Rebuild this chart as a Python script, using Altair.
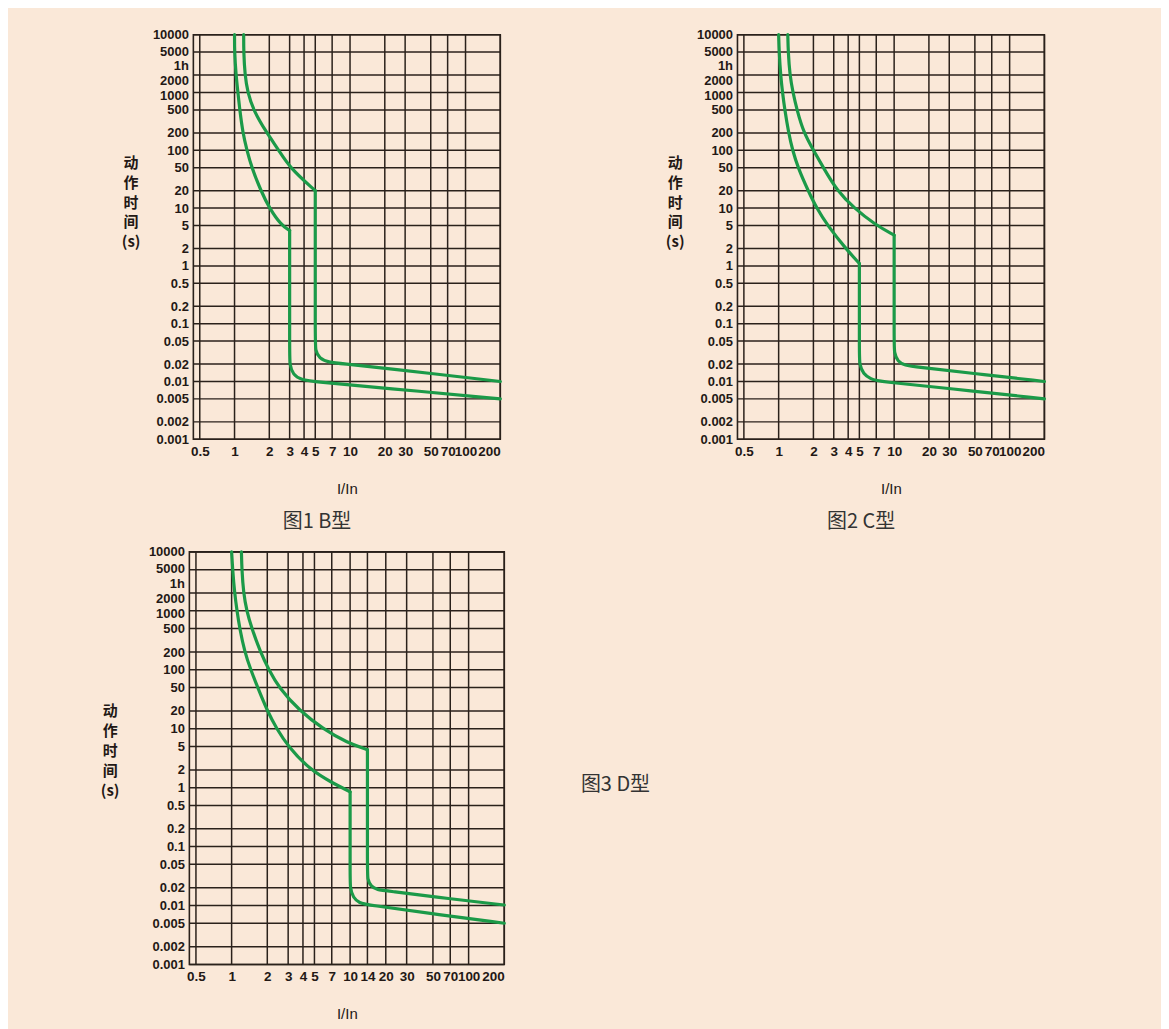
import altair as alt
import pandas as pd

# ---------------- axis ticks ----------------
X_TICKS_BC = [0.5, 1, 2, 3, 4, 5, 7, 10, 20, 30, 50, 70, 100, 200]
X_TICKS_D = [0.5, 1, 2, 3, 4, 5, 7, 10, 14, 20, 30, 50, 70, 100, 200]
Y_TICKS = [10000, 5000, 3600, 2000, 1000, 500, 200, 100, 50, 20, 10, 5, 2, 1,
           0.5, 0.2, 0.1, 0.05, 0.02, 0.01, 0.005, 0.002, 0.001]
Y_GRID = [10000, 5000, 2000, 1000, 500, 200, 100, 50, 20, 10, 5, 2, 1,
          0.5, 0.2, 0.1, 0.05, 0.02, 0.01, 0.005, 0.002, 0.001]

# ---------------- curves (I/In , seconds) ----------------
# B type
B_lo_th_I = [1.0, 1.0, 1.03, 1.07, 1.11, 1.18, 1.28, 1.41, 1.69, 2.0, 2.55, 3.0]
B_lo_th_t = [10000, 5000, 2000, 1000, 500, 200, 100, 50, 20, 10, 5, 4.1]
B_lo_mg_I = [3.0, 3.0, 3.0, 3.2, 3.8, 4.8, 20, 200]
B_lo_mg_t = [4.1, 0.03, 0.02, 0.013, 0.0107, 0.0099, 0.0077, 0.005]
B_up_th_I = [1.2, 1.2, 1.23, 1.3, 1.45, 1.9, 2.42, 3.0, 5.0]
B_up_th_t = [10000, 5000, 2000, 1000, 500, 200, 100, 50, 20]
B_up_mg_I = [5.0, 5.0, 5.0, 5.4, 6.5, 8.5, 20, 200]
B_up_mg_t = [20, 0.05, 0.035, 0.025, 0.0215, 0.0203, 0.017, 0.01]
# C type
C_lo_th_I = [1.0, 1.01, 1.04, 1.08, 1.13, 1.22, 1.32, 1.47, 1.8, 2.13, 2.65, 3.8, 5.0]
C_lo_th_t = [10000, 5000, 2000, 1000, 500, 200, 100, 50, 20, 10, 5, 2, 1.1]
C_lo_mg_I = [5.0, 5.0, 5.0, 5.4, 6.3, 7.3, 30, 200]
C_lo_mg_t = [1.1, 0.03, 0.02, 0.0135, 0.011, 0.0100, 0.0076, 0.005]
C_up_th_I = [1.2, 1.21, 1.25, 1.33, 1.44, 1.65, 2.0, 2.44, 3.2, 4.5, 6.8, 10.0]
C_up_th_t = [10000, 5000, 2000, 1000, 500, 200, 100, 50, 20, 10, 5.2, 3.4]
C_up_mg_I = [10.0, 10.0, 10.0, 10.7, 12.5, 15, 50, 200]
C_up_mg_t = [3.4, 0.045, 0.032, 0.022, 0.019, 0.018, 0.0137, 0.01]
# D type
D_lo_th_I = [1.0, 1.02, 1.06, 1.11, 1.17, 1.29, 1.45, 1.66, 2.0, 2.4, 3.0, 4.6, 7.0, 10.0]
D_lo_th_t = [10000, 5000, 2000, 1000, 500, 200, 100, 50, 20, 10, 5, 2, 1.22, 0.85]
D_lo_mg_I = [10.0, 10.0, 10.0, 10.6, 12, 14, 50, 200]
D_lo_mg_t = [0.85, 0.03, 0.02, 0.0135, 0.011, 0.0103, 0.0072, 0.005]
D_up_th_I = [1.21, 1.22, 1.26, 1.34, 1.48, 1.75, 2.06, 2.5, 3.75, 5.9, 9.4, 14.0]
D_up_th_t = [10000, 5000, 2000, 1000, 500, 200, 100, 50, 20, 10, 5.8, 4.4]
D_up_mg_I = [14.0, 14.0, 14.0, 15, 17, 20, 70, 200]
D_up_mg_t = [4.4, 0.04, 0.028, 0.021, 0.0185, 0.0178, 0.013, 0.0102]

BG = "#fae8d8"
GRID = "#2a211b"
GREEN = "#1b9a48"
TXT = "#231815"
NUM_FONT = "Liberation Sans Narrow, Liberation Sans, Arial, sans-serif"
CJK = "Noto Sans CJK SC"


def curve_frame(segments):
    rows = []
    for name, xs, ts in segments:
        for k, (i, t) in enumerate(zip(xs, ts)):
            rows.append({"seg": name, "k": k, "I": i, "t": t})
    return pd.DataFrame(rows)


def panel(segments, xticks, w, h, ytx, yty, caption):
    xscale = alt.Scale(type="log", domain=[0.44, 200], nice=False)
    yscale = alt.Scale(type="log", domain=[0.001, 10000], nice=False)
    xaxis = alt.Axis(values=xticks, labelExpr="'' + datum.value", grid=False,
                     ticks=False, domain=False, labelPadding=5, labelOverlap=False,
                     labelFont=NUM_FONT, labelFontSize=13.5, labelFontWeight="bold",
                     labelColor=TXT, title="I/In", titlePadding=24,
                     titleFont="Liberation Sans, Arial", titleFontSize=15,
                     titleFontWeight="normal", titleColor=TXT)
    yaxis = alt.Axis(values=Y_TICKS,
                     labelExpr="datum.value == 3600 ? '1h' : '' + datum.value",
                     grid=False, ticks=False, domain=False, labelPadding=5,
                     labelOverlap=False, labelFont=NUM_FONT, labelFontSize=13,
                     labelFontWeight="bold", labelColor=TXT,
                     labelOffset={"condition": [
                         {"test": "datum.value == 5000", "value": -1},
                         {"test": "datum.value == 3600", "value": 5},
                         {"test": "datum.value == 2000", "value": 5},
                         {"test": "datum.value == 1000", "value": 3}],
                         "value": 0},
                     title=["动", "作", "时", "间", "(s)"], titleAngle=0,
                     titleAlign="center", titleBaseline="top", titleX=ytx,
                     titleY=yty, titleFont=CJK, titleFontSize=15,
                     titleFontWeight="bold", titleLineHeight=20, titleColor=TXT)

    vgrid = alt.Chart(pd.DataFrame({"I": xticks})).mark_rule(
        color=GRID, strokeWidth=1.5).encode(
        x=alt.X("I:Q", scale=xscale, axis=xaxis))
    hgrid = alt.Chart(pd.DataFrame({"t": Y_GRID})).mark_rule(
        color=GRID, strokeWidth=1.5).encode(
        y=alt.Y("t:Q", scale=yscale, axis=yaxis))
    lines = alt.Chart(curve_frame(segments)).mark_line(
        color=GREEN, strokeWidth=3.2, interpolate="basis",
        strokeCap="round", strokeJoin="round").encode(
        x=alt.X("I:Q", scale=xscale, axis=xaxis),
        y=alt.Y("t:Q", scale=yscale, axis=yaxis),
        detail="seg:N",
        order=alt.Order("k:Q"))
    return alt.layer(vgrid, hgrid, lines).properties(width=w, height=h, title=caption)


def bottom_caption(text):
    return alt.TitleParams(text, orient="bottom", anchor="middle", dx=-30, offset=16,
                           font=CJK, fontSize=20, fontWeight="normal", color="#333333")


p1 = panel([("lo_th", B_lo_th_I, B_lo_th_t), ("lo_mg", B_lo_mg_I, B_lo_mg_t),
            ("up_th", B_up_th_I, B_up_th_t), ("up_mg", B_up_mg_I, B_up_mg_t)],
           X_TICKS_BC, 308, 406, -63, 121, bottom_caption("图1 B型"))
p2 = panel([("lo_th", C_lo_th_I, C_lo_th_t), ("lo_mg", C_lo_mg_I, C_lo_mg_t),
            ("up_th", C_up_th_I, C_up_th_t), ("up_mg", C_up_mg_I, C_up_mg_t)],
           X_TICKS_BC, 308, 406, -63, 121, bottom_caption("图2 C型"))
p3 = panel([("lo_th", D_lo_th_I, D_lo_th_t), ("lo_mg", D_lo_mg_I, D_lo_mg_t),
            ("up_th", D_up_th_I, D_up_th_t), ("up_mg", D_up_mg_I, D_up_mg_t)],
           X_TICKS_D, 316, 414, -80, 152,
           alt.TitleParams("图3 D型", orient="right", anchor="middle", angle=0,
                           align="left", baseline="middle", frame="group",
                           offset=6, dy=27, font=CJK, fontSize=20,
                           fontWeight="normal", color="#333333"))

chart = alt.concat(p1, p2, p3, columns=2, spacing={"row": 113, "column": 234},
                   bounds="flush", center=True).properties(
    padding={"left": 91, "top": 18, "right": 114, "bottom": 5}
).configure(background=BG).configure_view(stroke=GRID, strokeWidth=1.6)

chart.save("out.html", embed_options={"renderer": "svg", "actions": False})
